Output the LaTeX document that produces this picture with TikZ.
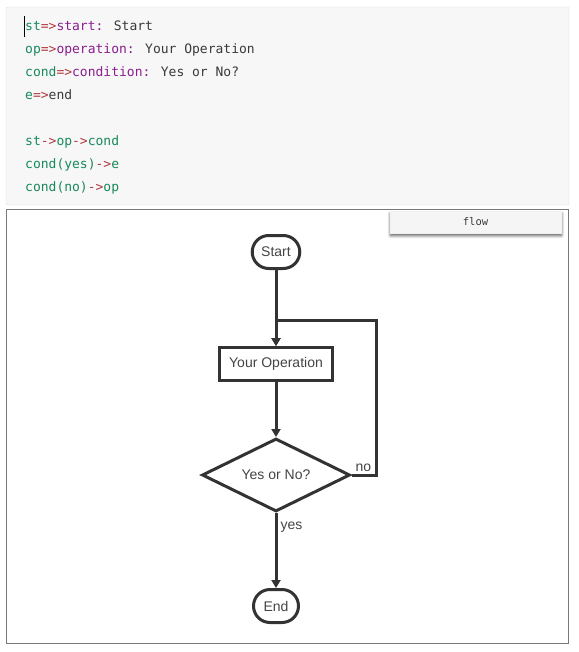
\documentclass[tikz,border=0pt]{standalone}
\usepackage{fontspec}
\setmainfont{Liberation Sans}
\newfontfamily\codefont{DejaVu Sans Mono}
\usetikzlibrary{shapes.geometric, arrows.meta, positioning, shadows.blur}

\definecolor{codegreen}{HTML}{168A5B}
\definecolor{codered}{HTML}{B0383F}
\definecolor{codepurple}{HTML}{8A1E8E}
\definecolor{codetext}{HTML}{3A3A3A}
\definecolor{flowgray}{HTML}{333333}
\definecolor{labelgray}{HTML}{444444}

\newcommand{\cvar}[1]{\textcolor{codegreen}{#1}}
\newcommand{\cop}[1]{\textcolor{codered}{#1}}
\newcommand{\ctype}[1]{\textcolor{codepurple}{#1}}

\tikzset{
	codeline/.style = {anchor=base west, inner sep=0pt, text=codetext, font=\codefont\fontsize{13}{15}\selectfont},
	terminal/.style = {draw=flowgray, line width=3pt, rectangle, rounded corners=16.5pt, minimum width=45pt, minimum height=33pt, inner xsep=9pt, text=labelgray, font=\fontsize{14}{16}\selectfont},
	opbox/.style    = {draw=flowgray, line width=3pt, rectangle, minimum width=113pt, minimum height=33pt, inner xsep=9pt, text=labelgray, font=\fontsize{14}{16}\selectfont},
	decision/.style = {draw=flowgray, line width=3pt, diamond, aspect=2, minimum width=148pt, minimum height=73pt, inner sep=0pt, text=labelgray, font=\fontsize{14}{16}\selectfont},
	lbl/.style      = {inner sep=0pt, text=labelgray, font=\fontsize{14}{16}\selectfont},
	flowline/.style = {draw=flowgray, line width=3pt},
}

\begin{document}
\begin{tikzpicture}[x=1pt, y=1pt, >={Triangle[length=8pt, width=9pt]}]
	\useasboundingbox (0,0) rectangle (578,-652);

	% Source panel
	\draw[draw=black!13, fill=black!3, rounded corners=2pt] (6,-7) rectangle (569,-205);
	\draw[black, line width=1pt] (24.5,-16) -- (24.5,-37);
	\node[codeline] (l1) at (25,-30.5)  {\cvar{st}\cop{=>}\ctype{start:} Start};
	\node[codeline] (l2) at (25,-53.5)  {\cvar{op}\cop{=>}\ctype{operation:} Your Operation};
	\node[codeline] (l3) at (25,-76.5)  {\cvar{cond}\cop{=>}\ctype{condition:} Yes or No?};
	\node[codeline] (l4) at (25,-99.5)  {\cvar{e}\cop{=>}end};
	\node[codeline] (l5) at (25,-145.5) {\cvar{st}\cop{->}\cvar{op}\cop{->}\cvar{cond}};
	\node[codeline] (l6) at (25,-168.5) {\cvar{cond(yes)}\cop{->}\cvar{e}};
	\node[codeline] (l7) at (25,-191.5) {\cvar{cond(no)}\cop{->}\cvar{op}};

	% Diagram panel
	\draw[black!53, line width=1pt] (6.5,-209.5) rectangle (568.5,-643.5);
	\node[fill=black!4, draw=black!6, minimum width=171pt, minimum height=22pt, inner sep=0pt,
	      blur shadow={shadow xshift=0.5pt, shadow yshift=-2.5pt, shadow blur steps=6, shadow blur radius=3pt, shadow opacity=70},
	      text=codetext, font=\codefont\fontsize{10.5}{12}\selectfont] (flowbtn) at (475.5,-222) {flow};

	% Flowchart nodes
	\node[terminal] (st) at (276,-252) {Start};
	\node[opbox   , below of = st  , node distance = 112pt] (op)   {Your Operation};
	\node[decision, below of = op  , node distance = 111pt] (cond) {Yes or No?};
	\node[terminal, below of = cond, node distance = 131pt] (e)    {End};
	\coordinate (nobend) at (376,-320);

	% Connectors
	\draw[flowline, ->] (st) -- (op);
	\draw[flowline, ->] (op) -- (cond);
	\draw[flowline, ->] (cond) -- (e);
	\draw[flowline, ->] (cond.east) -| (nobend) -| (op.north);

	% Branch labels
	\node[lbl, anchor=south west] (yeslbl) at ([xshift=4.5pt, yshift=-20pt]cond.south) {yes};
	\node[lbl, anchor=south west] (nolbl)  at ([xshift=4pt, yshift=3pt]cond.east) {no};
\end{tikzpicture}
\end{document}
